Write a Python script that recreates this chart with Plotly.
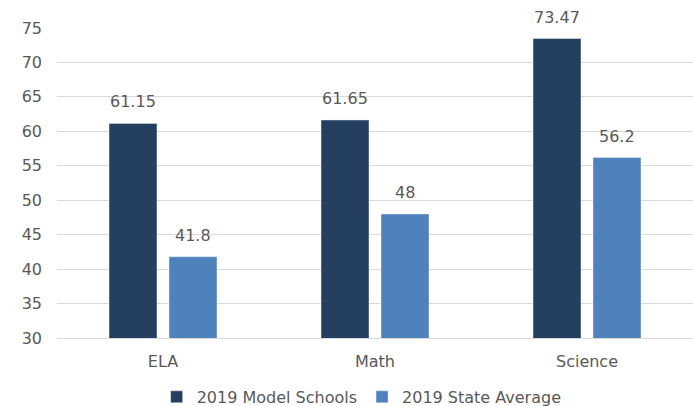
import plotly.graph_objects as go

categories = ["ELA", "Math", "Science"]
model_schools = [61.15, 61.65, 73.47]
state_average = [41.8, 48, 56.2]
model_labels = ["61.15", "61.65", "73.47"]
state_labels = ["41.8", "48", "56.2"]

font = "DejaVu Sans, sans-serif"
grey = "#595959"

fig = go.Figure()
fig.add_trace(go.Bar(x=categories, y=model_schools, name="2019 Model Schools",
                     marker_color="#243F60"))
fig.add_trace(go.Bar(x=categories, y=state_average, name="2019 State Average",
                     marker_color="#4F81BD"))

# data labels above each bar
for cat, val, lab in zip(categories, model_schools, model_labels):
    fig.add_annotation(x=cat, y=val, text=lab, showarrow=False, xshift=-30,
                       yanchor="bottom", yshift=10, font=dict(size=16, color=grey))
for cat, val, lab in zip(categories, state_average, state_labels):
    fig.add_annotation(x=cat, y=val, text=lab, showarrow=False, xshift=30,
                       yanchor="bottom", yshift=10, font=dict(size=16, color=grey))

fig.update_layout(
    width=693, height=406,
    margin=dict(l=57, r=0, t=28, b=68, autoexpand=False),
    paper_bgcolor="white", plot_bgcolor="white",
    font=dict(family=font, size=16, color=grey),
    barmode="group", bargap=0.434, bargroupgap=0.2,
    legend=dict(orientation="h", x=0.479, xanchor="center", y=-0.19, yanchor="middle",
                font=dict(size=16, color=grey), traceorder="normal"),
    xaxis=dict(showline=True, linecolor="#D9D9D9", linewidth=1, ticks="",
               tickfont=dict(size=16, color=grey), ticklabelstandoff=9,
               automargin=False),
    yaxis=dict(range=[30, 75], dtick=5, showgrid=True, gridcolor="#D9D9D9",
               zeroline=False, ticks="", tickfont=dict(size=16, color=grey),
               ticklabelstandoff=14, automargin=False),
)

# drop the browser's default body margin so the figure sits at the window corner
fig.write_html("out.html", config={"displayModeBar": False},
               post_script="document.body.style.margin = '0';")
